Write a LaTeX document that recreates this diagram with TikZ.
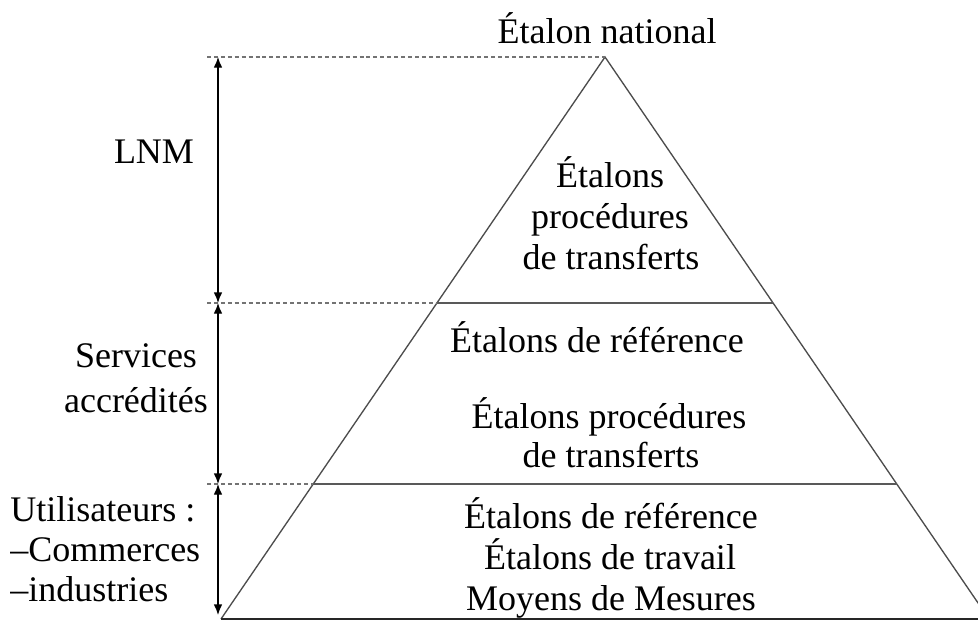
\documentclass[tikz,border=0pt]{standalone}
\usepackage{fontspec}
\setmainfont{Liberation Serif}
\usetikzlibrary{arrows.meta}
\begin{document}
\begin{tikzpicture}[x=0.75pt,y=-0.75pt,
  lbl/.style={font=\fontsize{27}{31}\selectfont, inner sep=0pt, anchor=base},
  lblw/.style={lbl, anchor=base west},
  guide/.style={draw=black!55, line width=0.9pt, dash pattern=on 3pt off 2.2pt},
  side/.style={draw=black!70, line width=1pt},
  level/.style={draw=black!65, line width=1pt},
  baseline/.style={draw=black!85, line width=1.6pt},
  span/.style={draw=black, line width=1pt,
    {Latex[length=8pt,width=6.5pt]}-{Latex[length=8pt,width=6.5pt]}}
]
\useasboundingbox (0,0) rectangle (978,621);
\clip (0,0) rectangle (978,621);

% pyramid corners and level boundaries
\coordinate (apex) at (605,57);
\coordinate (bl) at (221,619);
\coordinate (br) at (989,619);
\coordinate (l1) at (437,303);
\coordinate (r1) at (773,303);
\coordinate (l2) at (313,484);
\coordinate (r2) at (897,484);

% left ends of the dashed guides
\coordinate (g0) at (207,57);
\coordinate (g1) at (207,303);
\coordinate (g2) at (207,484);

% points of the vertical span arrows
\coordinate (a0) at (218,57);
\coordinate (a1) at (218,303);
\coordinate (a2) at (218,484);
\coordinate (a3) at (218,615);

% pyramid
\draw[side] (bl) -- (apex) -- (br);
\draw[baseline] (bl) -- (br);
\draw[level] (l1) -- (r1);
\draw[level] (l2) -- (r2);

% dashed guides
\draw[guide] (g0) -- (apex);
\draw[guide] (g1) -- (l1);
\draw[guide] (g2) -- (l2);

% span arrows
\draw[span] (a0) -- (a1);
\draw[span] (a1) -- (a2);
\draw[span] (a2) -- (a3);

% labels
\node[lbl] (top) at (607,43) {Étalon national};
\node[lbl] (lnm) at (154,163) {LNM};

\node[lbl] (t1) at (610,187) {Étalons};
\node[lbl] (t2) at (610,228) {procédures};
\node[lbl] (t3) at (611,269) {de transferts};

\node[lbl] (s1) at (136,367) {Services};
\node[lbl] (s2) at (136,412) {accrédités};

\node[lbl] (m1) at (597,352) {Étalons de référence};
\node[lbl] (m2) at (609,428) {Étalons procédures};
\node[lbl] (m3) at (611,467) {de transferts};

\node[lblw] (u1) at (10,521) {Utilisateurs :};
\node[lblw] (u2) at (10,561) {–Commerces};
\node[lblw] (u3) at (10,601) {–industries};

\node[lbl] (b1) at (611,528) {Étalons de référence};
\node[lbl] (b2) at (610,569) {Étalons de travail};
\node[lbl] (b3) at (611,610) {Moyens de Mesures};
\end{tikzpicture}
\end{document}
